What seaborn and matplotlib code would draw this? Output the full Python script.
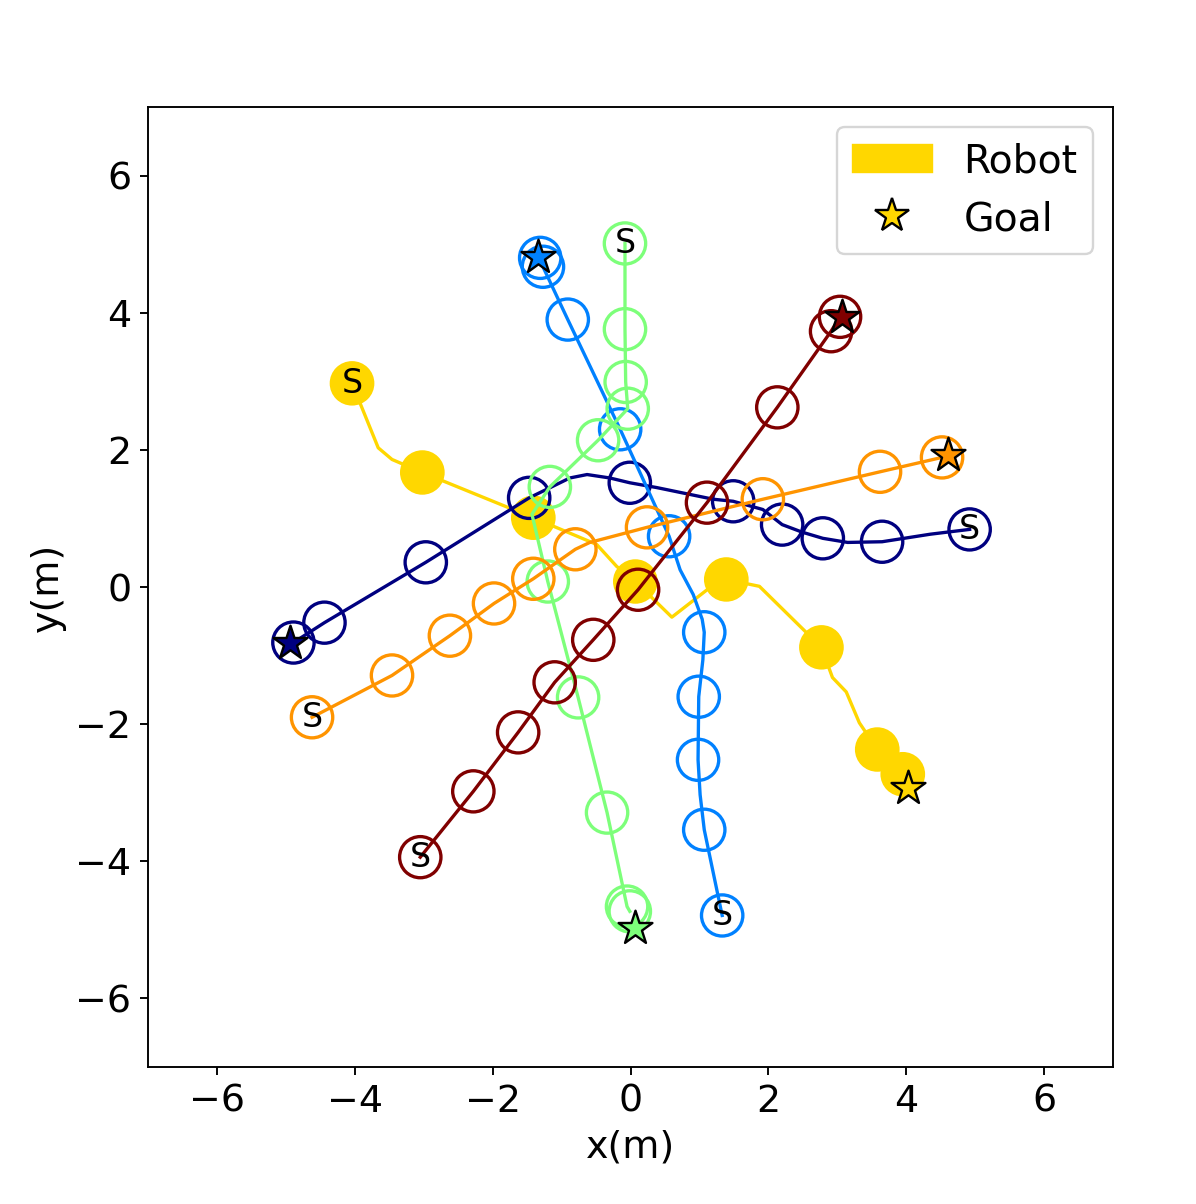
import matplotlib
matplotlib.use('Agg')
import matplotlib.pyplot as plt
import matplotlib.patches as mpatches
import matplotlib.lines as mlines
import seaborn as sns
import numpy as np


# robot trajectory (m), circles drawn at robot_marks
robot_x = [-4.04, -3.66, -3.46, -3.02, -1.41, -0.49, -0.20, 0.07, 0.60, 1.15, 1.39, 1.87, 2.77, 2.93, 3.13, 3.32, 3.58, 3.95]
robot_y = [2.97, 2.03, 1.86, 1.67, 1.01, 0.62, 0.30, 0.08, -0.44, -0.01, 0.11, 0.01, -0.88, -1.32, -1.53, -1.98, -2.37, -2.73]
robot_marks = [0, 3, 4, 7, 10, 12, 16, 17]
robot_goal = (4.03, -2.93)

# humans
h0_x = [4.92, 4.35, 3.65, 3.15, 2.79, 2.49, 2.20, 1.92, 1.49, 1.20, 0.38, -0.01, -0.30, -0.63, -0.88, -1.47, -2.97, -4.44, -4.89]
h0_y = [0.84, 0.77, 0.66, 0.65, 0.71, 0.80, 0.91, 1.13, 1.25, 1.28, 1.45, 1.52, 1.59, 1.64, 1.59, 1.30, 0.36, -0.52, -0.81]
h0_marks = [0, 2, 4, 6, 8, 11, 15, 16, 17, 18]
h0_goal = (-4.94, -0.81)

h1_x = [1.33, 1.07, 1.01, 0.98, 0.99, 1.05, 1.07, 1.04, 0.91, 0.72, 0.56, -0.15, -0.91, -1.27, -1.31]
h1_y = [-4.79, -3.54, -3.03, -2.52, -1.60, -1.06, -0.66, -0.47, -0.11, 0.25, 0.74, 2.30, 3.90, 4.67, 4.80]
h1_marks = [0, 1, 3, 4, 6, 10, 11, 12, 13, 14]
h1_goal = (-1.34, 4.81)

h2_x = [-0.08, -0.08, -0.07, -0.04, -0.47, -1.17, -1.43, -1.20, -0.76, -0.34, -0.05, -0.01]
h2_y = [5.01, 3.76, 2.99, 2.60, 2.14, 1.46, 1.06, 0.08, -1.61, -3.29, -4.66, -4.73]
h2_marks = [0, 1, 2, 3, 4, 5, 7, 8, 9, 10, 11]
h2_goal = (0.07, -4.97)

h3_x = [-4.62, -3.46, -2.62, -1.98, -1.41, -0.80, -0.59, -0.25, 0.24, 1.92, 3.62, 4.52]
h3_y = [-1.90, -1.29, -0.71, -0.24, 0.12, 0.55, 0.65, 0.74, 0.87, 1.28, 1.68, 1.89]
h3_marks = [0, 1, 2, 3, 4, 5, 8, 9, 10, 11]
h3_goal = (4.61, 1.93)

h4_x = [-3.05, -2.28, -1.63, -1.10, -0.54, 0.11, 1.11, 2.13, 2.91, 3.04]
h4_y = [-3.94, -2.98, -2.12, -1.39, -0.77, -0.04, 1.23, 2.62, 3.73, 3.94]
h4_marks = [0, 1, 2, 3, 4, 5, 6, 7, 8, 9]
h4_goal = (3.07, 3.94)

ticks = [-6, -4, -2, 0, 2, 4, 6]
radius = 0.3
robot_color = 'gold'


def draw_agent(ax, xs, ys, marks, goal, color, filled, z):
    sns.lineplot(x=xs, y=ys, sort=False, estimator=None, color=color, lw=1.4, ax=ax, zorder=z)
    for i in marks:
        ax.add_artist(plt.Circle((xs[i], ys[i]), radius, fill=filled, color=color,
                                 lw=1.4, zorder=z))
    ax.text(xs[0], ys[0], 'S', fontsize=14, color='black', ha='center', va='center', zorder=z + 1)
    sns.scatterplot(x=[goal[0]], y=[goal[1]], marker='*', s=15 ** 2, color=color,
                    edgecolor='black', linewidth=1.0, ax=ax, zorder=10)


def main():
    plt.rcParams['font.family'] = ['DejaVu Sans']
    fig = plt.figure(figsize=(1196 / 171, 1204 / 171), dpi=171)
    ax = fig.add_axes([148 / 1196, 1 - 1067 / 1204, 965 / 1196, 960 / 1204])

    draw_agent(ax, robot_x, robot_y, robot_marks, robot_goal, robot_color, True, 2)

    humans = [(h0_x, h0_y, h0_marks, h0_goal), (h1_x, h1_y, h1_marks, h1_goal),
              (h2_x, h2_y, h2_marks, h2_goal), (h3_x, h3_y, h3_marks, h3_goal),
              (h4_x, h4_y, h4_marks, h4_goal)]
    colors = plt.cm.jet(np.linspace(0, 1, len(humans)))
    for k, (hx, hy, hm, hg) in enumerate(humans):
        draw_agent(ax, hx, hy, hm, hg, colors[k], False, 3 + k)

    ax.set_xlim(-7, 7)
    ax.set_ylim(-7, 7)
    ax.set_xticks(ticks)
    ax.set_yticks(ticks)
    ax.tick_params(labelsize=16)
    ax.set_xlabel('x(m)', fontsize=16)
    ax.set_ylabel('y(m)', fontsize=16)

    robot = mpatches.Patch(color=robot_color)
    goal = mlines.Line2D([], [], color=robot_color, marker='*', linestyle='None',
                         markersize=15, markeredgecolor='black')
    ax.legend([robot, goal], ['Robot', 'Goal'], fontsize=16.6, loc='upper right')

    fig.savefig('out.png', dpi=171)


if __name__ == "__main__":
    main()
